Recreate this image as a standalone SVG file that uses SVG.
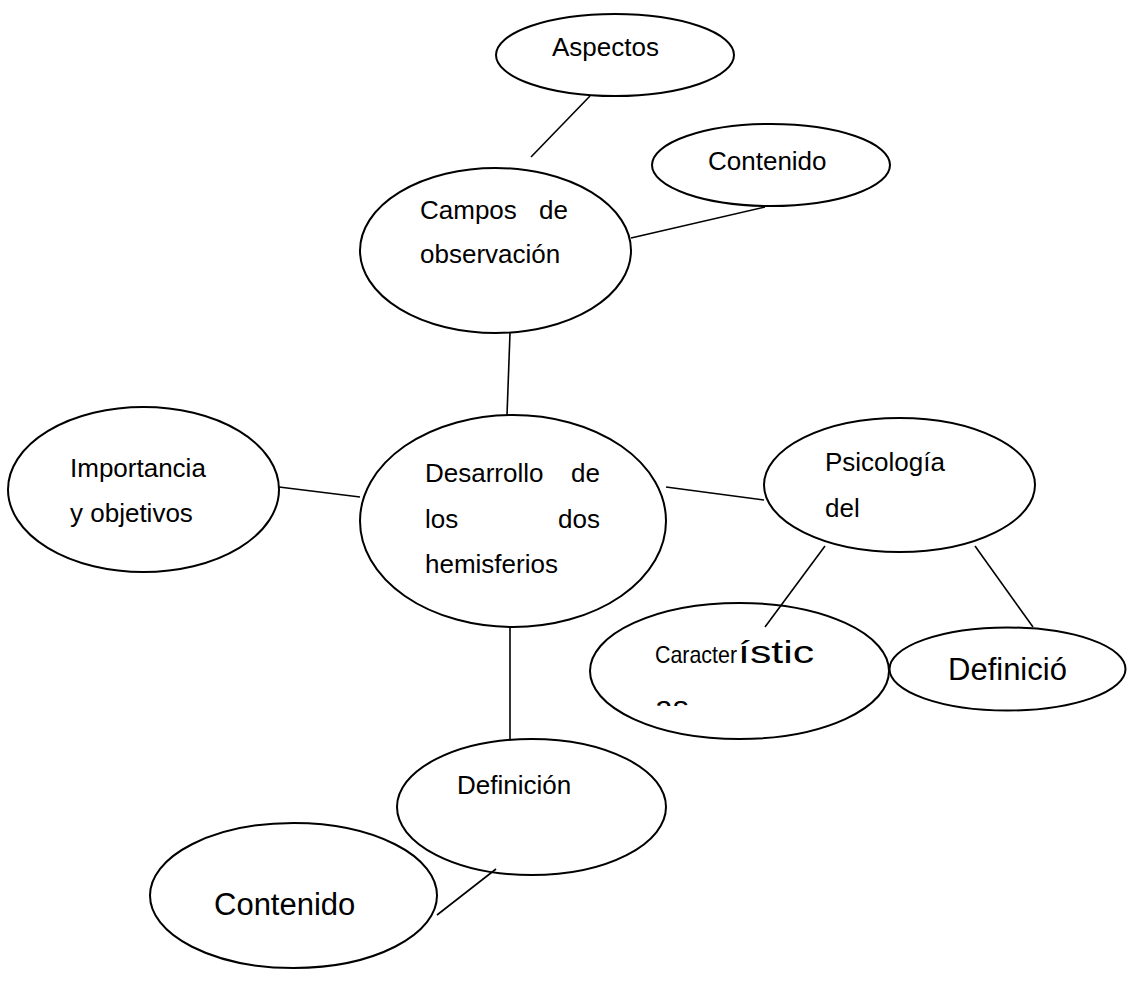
<svg xmlns="http://www.w3.org/2000/svg" width="1127" height="998" viewBox="0 0 1127 998">
  <style>
    .node ellipse { fill: #ffffff; stroke: #000000; stroke-width: 2; }
    .node text { font-family: "Liberation Sans", Arial, sans-serif; font-size: 26px; fill: #000000; }
    .node text.big { font-size: 31px; }
    .node text.mid { font-size: 32px; }
    .node text.small { font-size: 24px; }
    #connectors line { stroke: #000000; stroke-width: 1.6; }
  </style>
  <defs>
    <clipPath id="clip-caracteristicas">
      <rect x="590" y="600" width="300" height="106"/>
    </clipPath>
  </defs>
  <rect width="1127" height="998" fill="#ffffff"/>

  <g id="aspectos" class="node">
    <ellipse cx="615" cy="55" rx="119" ry="41"/>
    <text x="552" y="56">Aspectos</text>
  </g>

  <g id="contenido-top" class="node">
    <ellipse cx="771" cy="165" rx="119" ry="41"/>
    <text x="708" y="170">Contenido</text>
  </g>

  <g id="campos" class="node">
    <ellipse cx="495.5" cy="250.5" rx="135.5" ry="82.5"/>
    <text x="420" y="219">Campos</text>
    <text x="568" y="219" text-anchor="end">de</text>
    <text x="420" y="263">observación</text>
  </g>

  <g id="importancia" class="node">
    <ellipse cx="143.5" cy="489.5" rx="135.5" ry="82.5"/>
    <text x="70" y="477">Importancia</text>
    <text x="70" y="522">y objetivos</text>
  </g>

  <g id="desarrollo" class="node">
    <ellipse cx="513" cy="521" rx="153" ry="106"/>
    <text x="425" y="482">Desarrollo</text>
    <text x="600" y="482" text-anchor="end">de</text>
    <text x="425" y="528">los</text>
    <text x="600" y="528" text-anchor="end">dos</text>
    <text x="425" y="573">hemisferios</text>
  </g>

  <g id="psicologia" class="node">
    <ellipse cx="899.5" cy="485" rx="135.5" ry="67"/>
    <text x="825" y="471">Psicología</text>
    <text x="825" y="517">del</text>
  </g>

  <g id="caracteristicas" class="node">
    <ellipse cx="739.5" cy="671" rx="149.5" ry="68"/>
    <g clip-path="url(#clip-caracteristicas)">
      <text x="655" y="663" class="small"><tspan textLength="82" lengthAdjust="spacingAndGlyphs">Caracter</tspan><tspan x="738" class="mid" style="font-size:32px" textLength="76" lengthAdjust="spacingAndGlyphs">ístic</tspan></text>
      <text x="655" y="718" class="mid">as</text>
    </g>
  </g>

  <g id="definicio" class="node">
    <ellipse cx="1007.5" cy="669" rx="118" ry="41.5"/>
    <text x="948" y="680" class="big">Definició</text>
  </g>

  <g id="definicion" class="node">
    <ellipse cx="531.5" cy="807" rx="134.5" ry="68"/>
    <text x="457" y="794">Definición</text>
  </g>

  <g id="contenido-bottom" class="node">
    <ellipse cx="293.5" cy="895.5" rx="143.5" ry="72.5"/>
    <text x="214" y="915" class="big">Contenido</text>
  </g>

  <g id="connectors">
    <line x1="531" y1="157" x2="590" y2="96"/>
    <line x1="631" y1="238" x2="765" y2="207"/>
    <line x1="510" y1="333" x2="507" y2="415"/>
    <line x1="279" y1="487" x2="360" y2="497"/>
    <line x1="666" y1="487" x2="764" y2="500"/>
    <line x1="825" y1="546" x2="765" y2="627"/>
    <line x1="975" y1="546" x2="1033" y2="627"/>
    <line x1="510" y1="627" x2="510" y2="740"/>
    <line x1="496" y1="869" x2="437" y2="915"/>
  </g>
</svg>
